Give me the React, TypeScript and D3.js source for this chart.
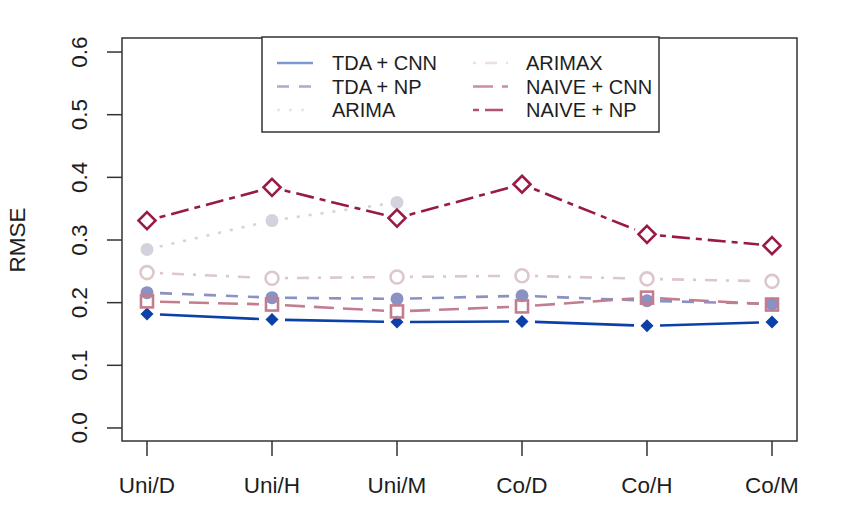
import React from 'react';
import * as d3 from 'd3';

// Categories on the x axis
const CATEGORIES = ['Uni/D', 'Uni/H', 'Uni/M', 'Co/D', 'Co/H', 'Co/M'];
const Y_TICKS = [0, 0.1, 0.2, 0.3, 0.4, 0.5, 0.6];

// RMSE per model (null = no value)
const TDA_CNN = [0.182, 0.173, 0.169, 0.17, 0.163, 0.169];
const TDA_NP = [0.216, 0.208, 0.206, 0.211, 0.203, 0.198];
const ARIMA: (number | null)[] = [0.285, 0.331, 0.36, null, null, null];
const ARIMAX = [0.248, 0.239, 0.241, 0.243, 0.238, 0.234];
const NAIVE_CNN = [0.202, 0.197, 0.186, 0.194, 0.208, 0.197];
const NAIVE_NP = [0.331, 0.384, 0.335, 0.389, 0.309, 0.291];

type Marker = 'diamondFill' | 'circleFill' | 'circleOpen' | 'square' | 'diamondOpen';

interface Series {
  name: string;
  values: (number | null)[];
  color: string;
  legendColor: string;
  dash: string;
  marker: Marker;
}

const SERIES: Series[] = [
  { name: 'TDA + CNN', values: TDA_CNN, color: '#0b40a8', legendColor: '#7d97d3', dash: '', marker: 'diamondFill' },
  { name: 'TDA + NP', values: TDA_NP, color: '#8a92c4', legendColor: '#a6acd4', dash: '12,10', marker: 'circleFill' },
  { name: 'ARIMA', values: ARIMA, color: '#d2d3dd', legendColor: '#e6e7ee', dash: '3,9', marker: 'circleFill' },
  { name: 'ARIMAX', values: ARIMAX, color: '#dcc7cd', legendColor: '#ecdfe3', dash: '3,9,12,9', marker: 'circleOpen' },
  { name: 'NAIVE + CNN', values: NAIVE_CNN, color: '#c27e8e', legendColor: '#c98f9c', dash: '20,9', marker: 'square' },
  { name: 'NAIVE + NP', values: NAIVE_NP, color: '#991a44', legendColor: '#b3526f', dash: '6,6,18,6', marker: 'diamondOpen' },
];

const W = 860;
const H = 529;
const box = { left: 122, right: 797, top: 38, bottom: 441 };
const FONT = '"Liberation Sans", Arial, Helvetica, sans-serif';
const GAP = 13;

const x = d3.scaleLinear().domain([0.8, 6.2]).range([box.left, box.right]);
const y = d3.scaleLinear().domain([-0.0208, 0.6224]).range([box.bottom, box.top]);

function markerShape(m: Marker, cx: number, cy: number, color: string, key: string) {
  switch (m) {
    case 'diamondFill':
      return (
        <path key={key} d={`M${cx},${cy - 6.5}L${cx + 6.5},${cy}L${cx},${cy + 6.5}L${cx - 6.5},${cy}Z`} fill={color} />
      );
    case 'circleFill':
      return <circle key={key} cx={cx} cy={cy} r={6.5} fill={color} />;
    case 'circleOpen':
      return <circle key={key} cx={cx} cy={cy} r={6.5} fill="none" stroke={color} strokeWidth={2.6} />;
    case 'square':
      return (
        <rect key={key} x={cx - 6} y={cy - 6} width={12} height={12} fill="none" stroke={color} strokeWidth={2.6} />
      );
    case 'diamondOpen':
      return (
        <path
          key={key}
          d={`M${cx},${cy - 8.5}L${cx + 8.5},${cy}L${cx},${cy + 8.5}L${cx - 8.5},${cy}Z`}
          fill="none"
          stroke={color}
          strokeWidth={2.6}
        />
      );
  }
}

function seriesSegments(s: Series) {
  // R type="b": lines stop short of each point
  const segs: JSX.Element[] = [];
  for (let i = 0; i < s.values.length - 1; i++) {
    const a = s.values[i];
    const b = s.values[i + 1];
    if (a == null || b == null) continue;
    const x1 = x(i + 1), y1 = y(a), x2 = x(i + 2), y2 = y(b);
    const len = Math.hypot(x2 - x1, y2 - y1);
    const ux = (x2 - x1) / len, uy = (y2 - y1) / len;
    segs.push(
      <line
        key={`${s.name}-seg-${i}`}
        x1={x1 + ux * GAP}
        y1={y1 + uy * GAP}
        x2={x2 - ux * GAP}
        y2={y2 - uy * GAP}
        stroke={s.color}
        strokeWidth={2.6}
        strokeDasharray={s.dash || undefined}
      />
    );
  }
  return segs;
}

const LEGEND_ROWS = [63, 86.5, 110];
const LEGEND_COLS = [
  { x1: 277, x2: 313, tx: 332 },
  { x1: 473, x2: 508, tx: 526 },
];

export default function App() {
  return (
    <div style={{ position: 'absolute', left: 0, top: 0 }}>
      <svg width={W} height={H} style={{ display: 'block', background: 'white' }} fontFamily={FONT}>
        {/* data */}
        {SERIES.map((s) => (
          <g key={s.name}>
            {seriesSegments(s)}
            {s.values.map((v, i) => (v == null ? null : markerShape(s.marker, x(i + 1), y(v), s.color, `${s.name}-m-${i}`)))}
          </g>
        ))}

        {/* plot box */}
        <rect
          x={box.left}
          y={box.top}
          width={box.right - box.left}
          height={box.bottom - box.top}
          fill="none"
          stroke="#333"
          strokeWidth={1.5}
        />

        {/* y axis */}
        {Y_TICKS.map((t) => (
          <g key={`yt-${t}`}>
            <line x1={box.left - 15} x2={box.left} y1={y(t)} y2={y(t)} stroke="#333" strokeWidth={1.5} />
            <text
              transform={`translate(87,${y(t)}) rotate(-90)`}
              textAnchor="middle"
              fontSize={22.5}
              fill="#1e1e1e"
            >
              {t.toFixed(1)}
            </text>
          </g>
        ))}
        <text transform={`translate(25,${y(0.3)}) rotate(-90)`} textAnchor="middle" fontSize={22.5} fill="#1e1e1e">
          RMSE
        </text>

        {/* x axis */}
        {CATEGORIES.map((c, i) => (
          <g key={c}>
            <line x1={x(i + 1)} x2={x(i + 1)} y1={box.bottom} y2={box.bottom + 15} stroke="#333" strokeWidth={1.5} />
            <text x={x(i + 1)} y={493} textAnchor="middle" fontSize={22.5} fill="#1e1e1e">
              {c}
            </text>
          </g>
        ))}

        {/* legend */}
        <rect x={262} y={37} width={397} height={95} fill="white" stroke="#333" strokeWidth={1.5} />
        {SERIES.map((s, i) => {
          const col = LEGEND_COLS[Math.floor(i / 3)];
          const ry = LEGEND_ROWS[i % 3];
          return (
            <g key={`lg-${s.name}`}>
              <line
                x1={col.x1}
                x2={col.x2}
                y1={ry}
                y2={ry}
                stroke={s.legendColor}
                strokeWidth={2.6}
                strokeDasharray={s.dash || undefined}
              />
              <text x={col.tx} y={ry} dy="0.35em" fontSize={20} fill="#1e1e1e">
                {s.name}
              </text>
            </g>
          );
        })}
      </svg>
    </div>
  );
}
